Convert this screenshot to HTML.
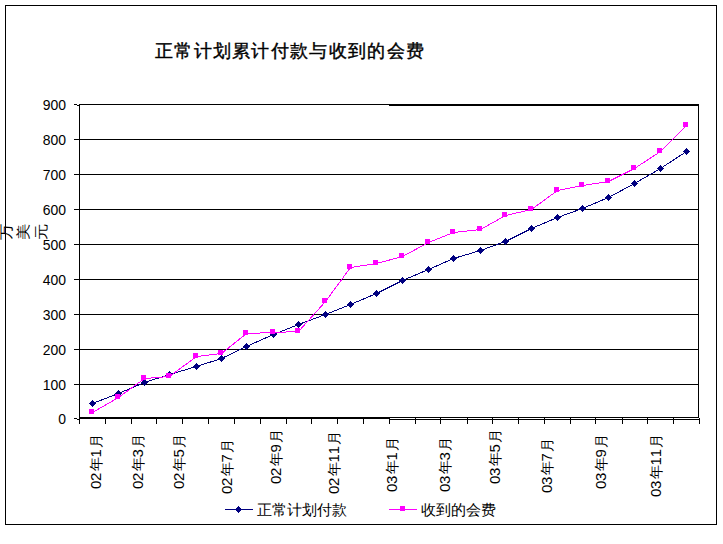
<!DOCTYPE html>
<html><head><meta charset="utf-8"><style>
html,body{margin:0;padding:0;background:#fff;width:723px;height:544px;overflow:hidden;position:relative}
body{font-family:"Liberation Sans",sans-serif;color:#000}
.t{position:absolute;white-space:nowrap}
.yl{position:absolute;left:26px;width:40px;text-align:right;font-size:15.5px;line-height:17px;height:17px;transform-origin:100% 50%;transform:scaleX(0.9)}
.xl{position:absolute;white-space:nowrap;font-weight:500;font-size:14px;line-height:14px;letter-spacing:0px;transform-origin:0 0;transform:rotate(-90deg)}
.xl b{font-weight:normal;font-size:15px;letter-spacing:-0.3px;margin-right:1.5px;font-kerning:none}
#title{left:155px;top:39px;font-size:18px;font-weight:500;line-height:24px;letter-spacing:1.3px;-webkit-text-stroke:0.4px #000}
#ytitle span{position:absolute;display:block;font-weight:500;font-size:14px;line-height:14px;transform:rotate(-90deg) scaleX(1.17)}
.lg{position:absolute;font-size:15px;line-height:17px;white-space:nowrap;font-weight:500}
</style></head><body>
<svg width="723" height="544" viewBox="0 0 723 544" shape-rendering="crispEdges" style="position:absolute;left:0;top:0"><rect x="5.5" y="5.5" width="711" height="519" fill="none" stroke="#000" stroke-width="1"/><g fill="#000"><rect x="74" y="139" width="625" height="1"/><rect x="74" y="174" width="625" height="1"/><rect x="74" y="209" width="625" height="1"/><rect x="74" y="244" width="625" height="1"/><rect x="74" y="279" width="625" height="1"/><rect x="74" y="314" width="625" height="1"/><rect x="74" y="349" width="625" height="1"/><rect x="74" y="384" width="625" height="1"/><rect x="74" y="104" width="3" height="1"/><rect x="77" y="105" width="2" height="1"/><rect x="79" y="104" width="620" height="1"/><rect x="389" y="105" width="310" height="1"/><rect x="79" y="417" width="620" height="1"/><rect x="74" y="418" width="3" height="1"/><rect x="77" y="419" width="2" height="1"/><rect x="79" y="418" width="310" height="1"/><rect x="389" y="419" width="311" height="1"/><rect x="79" y="104" width="1" height="320"/><rect x="698" y="104" width="1" height="314"/><rect x="79" y="418" width="1" height="6"/><rect x="105" y="418" width="1" height="6"/><rect x="131" y="418" width="1" height="6"/><rect x="156" y="418" width="1" height="6"/><rect x="182" y="418" width="1" height="6"/><rect x="208" y="418" width="1" height="6"/><rect x="234" y="418" width="1" height="6"/><rect x="260" y="418" width="1" height="6"/><rect x="286" y="418" width="1" height="6"/><rect x="311" y="418" width="1" height="6"/><rect x="337" y="418" width="1" height="6"/><rect x="363" y="418" width="1" height="6"/><rect x="389" y="418" width="1" height="6"/><rect x="415" y="418" width="1" height="6"/><rect x="440" y="418" width="1" height="6"/><rect x="467" y="418" width="1" height="6"/><rect x="492" y="418" width="1" height="6"/><rect x="518" y="418" width="1" height="6"/><rect x="544" y="418" width="1" height="6"/><rect x="570" y="418" width="1" height="6"/><rect x="595" y="418" width="1" height="6"/><rect x="622" y="418" width="1" height="6"/><rect x="647" y="418" width="1" height="6"/><rect x="673" y="418" width="1" height="6"/><rect x="699" y="418" width="1" height="6"/></g><polyline points="92.5,403.5 118.5,393.5 144.5,382.5 169.5,374.5 196.5,366.5 221.5,358.5 246.5,346.5 273.5,334.5 298.5,324.5 325.5,314.5 350.5,304.5 376.5,293.5 402.5,280.5 428.5,269.5 453.5,258.5 480.5,250.5 505.5,241.5 531.5,228.5 557.5,217.5 582.5,208.5 608.5,197.5 634.5,183.5 660.5,168.5 686.5,151.5" fill="none" stroke="#000080" stroke-width="1"/><g fill="#000080"><path d="M92,400 L93,400 L93,401 L94,401 L94,402 L95,402 L95,403 L96,403 L96,404 L95,404 L95,405 L94,405 L94,406 L93,406 L93,407 L92,407 L92,406 L91,406 L91,405 L90,405 L90,404 L89,404 L89,403 L90,403 L90,402 L91,402 L91,401 L92,401Z"/><path d="M118,390 L119,390 L119,391 L120,391 L120,392 L121,392 L121,393 L122,393 L122,394 L121,394 L121,395 L120,395 L120,396 L119,396 L119,397 L118,397 L118,396 L117,396 L117,395 L116,395 L116,394 L115,394 L115,393 L116,393 L116,392 L117,392 L117,391 L118,391Z"/><path d="M144,379 L145,379 L145,380 L146,380 L146,381 L147,381 L147,382 L148,382 L148,383 L147,383 L147,384 L146,384 L146,385 L145,385 L145,386 L144,386 L144,385 L143,385 L143,384 L142,384 L142,383 L141,383 L141,382 L142,382 L142,381 L143,381 L143,380 L144,380Z"/><path d="M169,371 L170,371 L170,372 L171,372 L171,373 L172,373 L172,374 L173,374 L173,375 L172,375 L172,376 L171,376 L171,377 L170,377 L170,378 L169,378 L169,377 L168,377 L168,376 L167,376 L167,375 L166,375 L166,374 L167,374 L167,373 L168,373 L168,372 L169,372Z"/><path d="M196,363 L197,363 L197,364 L198,364 L198,365 L199,365 L199,366 L200,366 L200,367 L199,367 L199,368 L198,368 L198,369 L197,369 L197,370 L196,370 L196,369 L195,369 L195,368 L194,368 L194,367 L193,367 L193,366 L194,366 L194,365 L195,365 L195,364 L196,364Z"/><path d="M221,355 L222,355 L222,356 L223,356 L223,357 L224,357 L224,358 L225,358 L225,359 L224,359 L224,360 L223,360 L223,361 L222,361 L222,362 L221,362 L221,361 L220,361 L220,360 L219,360 L219,359 L218,359 L218,358 L219,358 L219,357 L220,357 L220,356 L221,356Z"/><path d="M246,343 L247,343 L247,344 L248,344 L248,345 L249,345 L249,346 L250,346 L250,347 L249,347 L249,348 L248,348 L248,349 L247,349 L247,350 L246,350 L246,349 L245,349 L245,348 L244,348 L244,347 L243,347 L243,346 L244,346 L244,345 L245,345 L245,344 L246,344Z"/><path d="M273,331 L274,331 L274,332 L275,332 L275,333 L276,333 L276,334 L277,334 L277,335 L276,335 L276,336 L275,336 L275,337 L274,337 L274,338 L273,338 L273,337 L272,337 L272,336 L271,336 L271,335 L270,335 L270,334 L271,334 L271,333 L272,333 L272,332 L273,332Z"/><path d="M298,321 L299,321 L299,322 L300,322 L300,323 L301,323 L301,324 L302,324 L302,325 L301,325 L301,326 L300,326 L300,327 L299,327 L299,328 L298,328 L298,327 L297,327 L297,326 L296,326 L296,325 L295,325 L295,324 L296,324 L296,323 L297,323 L297,322 L298,322Z"/><path d="M325,311 L326,311 L326,312 L327,312 L327,313 L328,313 L328,314 L329,314 L329,315 L328,315 L328,316 L327,316 L327,317 L326,317 L326,318 L325,318 L325,317 L324,317 L324,316 L323,316 L323,315 L322,315 L322,314 L323,314 L323,313 L324,313 L324,312 L325,312Z"/><path d="M350,301 L351,301 L351,302 L352,302 L352,303 L353,303 L353,304 L354,304 L354,305 L353,305 L353,306 L352,306 L352,307 L351,307 L351,308 L350,308 L350,307 L349,307 L349,306 L348,306 L348,305 L347,305 L347,304 L348,304 L348,303 L349,303 L349,302 L350,302Z"/><path d="M376,290 L377,290 L377,291 L378,291 L378,292 L379,292 L379,293 L380,293 L380,294 L379,294 L379,295 L378,295 L378,296 L377,296 L377,297 L376,297 L376,296 L375,296 L375,295 L374,295 L374,294 L373,294 L373,293 L374,293 L374,292 L375,292 L375,291 L376,291Z"/><path d="M402,277 L403,277 L403,278 L404,278 L404,279 L405,279 L405,280 L406,280 L406,281 L405,281 L405,282 L404,282 L404,283 L403,283 L403,284 L402,284 L402,283 L401,283 L401,282 L400,282 L400,281 L399,281 L399,280 L400,280 L400,279 L401,279 L401,278 L402,278Z"/><path d="M428,266 L429,266 L429,267 L430,267 L430,268 L431,268 L431,269 L432,269 L432,270 L431,270 L431,271 L430,271 L430,272 L429,272 L429,273 L428,273 L428,272 L427,272 L427,271 L426,271 L426,270 L425,270 L425,269 L426,269 L426,268 L427,268 L427,267 L428,267Z"/><path d="M453,255 L454,255 L454,256 L455,256 L455,257 L456,257 L456,258 L457,258 L457,259 L456,259 L456,260 L455,260 L455,261 L454,261 L454,262 L453,262 L453,261 L452,261 L452,260 L451,260 L451,259 L450,259 L450,258 L451,258 L451,257 L452,257 L452,256 L453,256Z"/><path d="M480,247 L481,247 L481,248 L482,248 L482,249 L483,249 L483,250 L484,250 L484,251 L483,251 L483,252 L482,252 L482,253 L481,253 L481,254 L480,254 L480,253 L479,253 L479,252 L478,252 L478,251 L477,251 L477,250 L478,250 L478,249 L479,249 L479,248 L480,248Z"/><path d="M505,238 L506,238 L506,239 L507,239 L507,240 L508,240 L508,241 L509,241 L509,242 L508,242 L508,243 L507,243 L507,244 L506,244 L506,245 L505,245 L505,244 L504,244 L504,243 L503,243 L503,242 L502,242 L502,241 L503,241 L503,240 L504,240 L504,239 L505,239Z"/><path d="M531,225 L532,225 L532,226 L533,226 L533,227 L534,227 L534,228 L535,228 L535,229 L534,229 L534,230 L533,230 L533,231 L532,231 L532,232 L531,232 L531,231 L530,231 L530,230 L529,230 L529,229 L528,229 L528,228 L529,228 L529,227 L530,227 L530,226 L531,226Z"/><path d="M557,214 L558,214 L558,215 L559,215 L559,216 L560,216 L560,217 L561,217 L561,218 L560,218 L560,219 L559,219 L559,220 L558,220 L558,221 L557,221 L557,220 L556,220 L556,219 L555,219 L555,218 L554,218 L554,217 L555,217 L555,216 L556,216 L556,215 L557,215Z"/><path d="M582,205 L583,205 L583,206 L584,206 L584,207 L585,207 L585,208 L586,208 L586,209 L585,209 L585,210 L584,210 L584,211 L583,211 L583,212 L582,212 L582,211 L581,211 L581,210 L580,210 L580,209 L579,209 L579,208 L580,208 L580,207 L581,207 L581,206 L582,206Z"/><path d="M608,194 L609,194 L609,195 L610,195 L610,196 L611,196 L611,197 L612,197 L612,198 L611,198 L611,199 L610,199 L610,200 L609,200 L609,201 L608,201 L608,200 L607,200 L607,199 L606,199 L606,198 L605,198 L605,197 L606,197 L606,196 L607,196 L607,195 L608,195Z"/><path d="M634,180 L635,180 L635,181 L636,181 L636,182 L637,182 L637,183 L638,183 L638,184 L637,184 L637,185 L636,185 L636,186 L635,186 L635,187 L634,187 L634,186 L633,186 L633,185 L632,185 L632,184 L631,184 L631,183 L632,183 L632,182 L633,182 L633,181 L634,181Z"/><path d="M660,165 L661,165 L661,166 L662,166 L662,167 L663,167 L663,168 L664,168 L664,169 L663,169 L663,170 L662,170 L662,171 L661,171 L661,172 L660,172 L660,171 L659,171 L659,170 L658,170 L658,169 L657,169 L657,168 L658,168 L658,167 L659,167 L659,166 L660,166Z"/><path d="M686,148 L687,148 L687,149 L688,149 L688,150 L689,150 L689,151 L690,151 L690,152 L689,152 L689,153 L688,153 L688,154 L687,154 L687,155 L686,155 L686,154 L685,154 L685,153 L684,153 L684,152 L683,152 L683,151 L684,151 L684,150 L685,150 L685,149 L686,149Z"/></g><polyline points="92.5,412.5 118.5,397.5 144.5,378.5 169.5,376.5 196.5,356.5 221.5,353.5 246.5,333.5 273.5,332.5 298.5,331.5 325.5,301.5 350.5,267.5 376.5,263.5 402.5,256.5 428.5,242.5 453.5,232.5 480.5,229.5 505.5,215.5 531.5,209.5 557.5,190.5 582.5,185.5 608.5,181.5 634.5,168.5 660.5,151.5 686.5,125.5" fill="none" stroke="#FF00FF" stroke-width="1"/><g fill="#FF00FF"><rect x="89" y="409" width="5" height="5"/><rect x="115" y="394" width="5" height="5"/><rect x="141" y="375" width="5" height="5"/><rect x="166" y="373" width="5" height="5"/><rect x="193" y="353" width="5" height="5"/><rect x="218" y="350" width="5" height="5"/><rect x="243" y="330" width="5" height="5"/><rect x="270" y="329" width="5" height="5"/><rect x="295" y="328" width="5" height="5"/><rect x="322" y="298" width="5" height="5"/><rect x="347" y="264" width="5" height="5"/><rect x="373" y="260" width="5" height="5"/><rect x="399" y="253" width="5" height="5"/><rect x="425" y="239" width="5" height="5"/><rect x="450" y="229" width="5" height="5"/><rect x="477" y="226" width="5" height="5"/><rect x="502" y="212" width="5" height="5"/><rect x="528" y="206" width="5" height="5"/><rect x="554" y="187" width="5" height="5"/><rect x="579" y="182" width="5" height="5"/><rect x="605" y="178" width="5" height="5"/><rect x="631" y="165" width="5" height="5"/><rect x="657" y="148" width="5" height="5"/><rect x="683" y="122" width="5" height="5"/></g><rect x="225" y="509" width="28" height="1" fill="#000080"/><path fill="#000080" d="M238,506h1v1h1v1h1v3h-1v1h-1v1h-1v-1h-1v-1h-1v-3h1v-1h1z"/><rect x="389" y="509" width="28" height="1" fill="#FF00FF"/><rect x="400" y="506" width="5" height="5" fill="#FF00FF"/></svg>
<div class="t" id="title">正常计划累计付款与收到的会费</div>
<div class="yl" style="top:95.5px">900</div><div class="yl" style="top:130.5px">800</div><div class="yl" style="top:165.5px">700</div><div class="yl" style="top:200.5px">600</div><div class="yl" style="top:235.5px">500</div><div class="yl" style="top:270.5px">400</div><div class="yl" style="top:305.5px">300</div><div class="yl" style="top:340.5px">200</div><div class="yl" style="top:375.5px">100</div><div class="yl" style="top:409.5px">0</div>
<div class="xl" style="left:89px;top:489px"><b>02</b>年<b>1</b>月</div><div class="xl" style="left:131px;top:489px"><b>02</b>年<b>3</b>月</div><div class="xl" style="left:172px;top:489px"><b>02</b>年<b>5</b>月</div><div class="xl" style="left:220px;top:494px"><b>02</b>年<b>7</b>月</div><div class="xl" style="left:269px;top:484px"><b>02</b>年<b>9</b>月</div><div class="xl" style="left:327px;top:494px"><b>02</b>年<b>11</b>月</div><div class="xl" style="left:385px;top:492px"><b>03</b>年<b>1</b>月</div><div class="xl" style="left:438px;top:492px"><b>03</b>年<b>3</b>月</div><div class="xl" style="left:488px;top:484px"><b>03</b>年<b>5</b>月</div><div class="xl" style="left:540px;top:493px"><b>03</b>年<b>7</b>月</div><div class="xl" style="left:594px;top:489px"><b>03</b>年<b>9</b>月</div><div class="xl" style="left:649px;top:497px"><b>03</b>年<b>11</b>月</div>
<div id="ytitle"><span style="left:-1px;top:224.5px">万</span><span style="left:15.5px;top:224.5px">美</span><span style="left:33.5px;top:224.5px">元</span></div>
<div class="lg" style="left:257px;top:501px">正常计划付款</div>
<div class="lg" style="left:421px;top:501px">收到的会费</div>
</body></html>
